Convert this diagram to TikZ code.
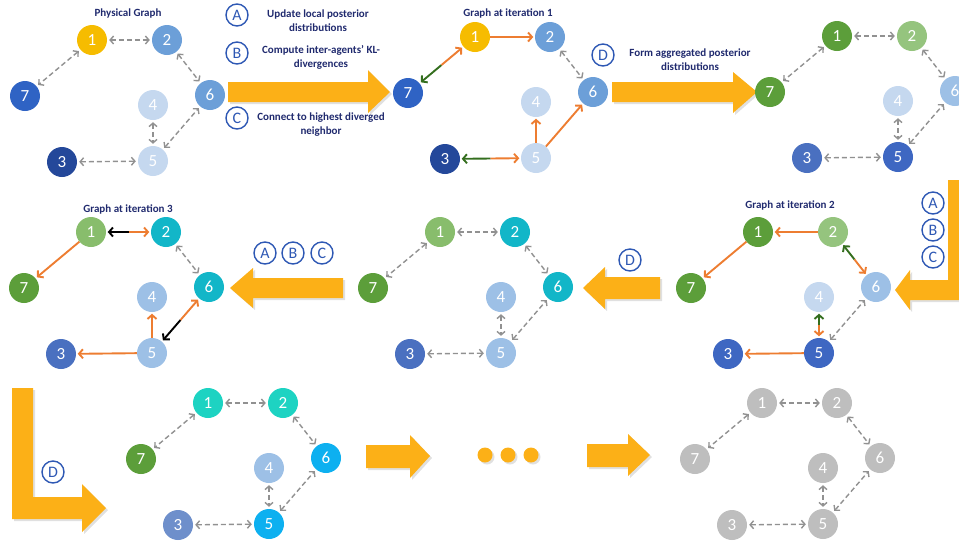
\documentclass[tikz,border=0pt]{standalone}
\usepackage{fontspec}
\setmainfont{Carlito}
\usetikzlibrary{arrows.meta,calc}
\definecolor{navy}{RGB}{32,42,110}
\definecolor{cb}{RGB}{46,88,180}
\definecolor{arr}{RGB}{252,176,23}
\definecolor{gold}{RGB}{246,188,0}
\definecolor{mb}{RGB}{108,159,216}
\definecolor{bseven}{RGB}{47,99,196}
\definecolor{pale}{RGB}{197,216,239}
\definecolor{dkb}{RGB}{36,72,154}
\definecolor{gn}{RGB}{92,158,58}
\definecolor{lgn}{RGB}{149,196,126}
\definecolor{lb}{RGB}{157,192,230}
\definecolor{bfive}{RGB}{62,103,194}
\definecolor{bthree}{RGB}{74,112,192}
\definecolor{mgn}{RGB}{136,189,108}
\definecolor{teal}{RGB}{18,182,200}
\definecolor{aqua}{RGB}{29,211,194}
\definecolor{sky}{RGB}{13,176,240}
\definecolor{lthree}{RGB}{110,143,203}
\definecolor{gr}{RGB}{190,190,190}
\definecolor{dline}{RGB}{145,145,145}
\definecolor{og}{RGB}{237,125,49}
\definecolor{dg}{RGB}{52,110,30}
\tikzset{
  nd/.style={circle, minimum size=30, inner sep=0, text=white,
    font=\fontsize{17}{17}\selectfont},
  dsh/.style={draw=dline, line width=1.4, dash pattern=on 5pt off 3pt,
    {Straight Barb[length=3.5pt,width=8pt]}-{Straight Barb[length=3.5pt,width=8pt]},
    shorten <=2, shorten >=2},
  sol/.style={line width=1.9, -{Straight Barb[length=4pt,width=9pt]}, shorten >=1.5},
  circ/.style={circle, draw=cb, line width=1.4, fill=white, minimum size=22,
    inner sep=0, text=cb, font=\fontsize{16}{16}\selectfont},
  lbl/.style={text=navy, font=\bfseries\fontsize{11}{14}\selectfont,
    align=center, inner sep=0},
  bigarrow/.style={fill=arr},
  shad/.style={fill=black, opacity=0.12},
}
\newcommand{\placenet}[8]{%
  \node[nd,fill=#2] (#1-1) at (0,0) {1};
  \node[nd,fill=#3] (#1-2) at (75,0) {2};
  \node[nd,fill=#4] (#1-3) at (-30,122) {3};
  \node[nd,fill=#5] (#1-4) at (61,65) {4};
  \node[nd,fill=#6] (#1-5) at (61,121) {5};
  \node[nd,fill=#7] (#1-6) at (118,55) {6};
  \node[nd,fill=#8] (#1-7) at (-67,56) {7};
}
\newcommand{\dashall}[1]{%
  \draw[dsh] (#1-1) -- (#1-2);
  \draw[dsh] (#1-2) -- (#1-6);
  \draw[dsh] (#1-1) -- (#1-7);
  \draw[dsh] (#1-4) -- (#1-5);
  \draw[dsh] (#1-5) -- (#1-6);
  \draw[dsh] (#1-3) -- (#1-5);
}
\newcommand{\splitedge}[4]{%
  \draw[sol,draw=#3] ($(#1)!0.5!(#2)$) -- (#1);
  \draw[sol,draw=#4] ($(#1)!0.5!(#2)$) -- (#2);
}
% a filled shape with a soft offset shadow
\newcommand{\shape}[1]{%
  \fill[shad, shift={(2,2)}] #1;
  \fill[bigarrow] #1;
}
\begin{document}
\begin{tikzpicture}[x=1pt,y=-1pt]
\useasboundingbox (0,0) rectangle (959,542);
\clip (0,0) rectangle (959,542);

% ---------- row 1 ----------
\node[lbl] (t1) at (128,14) {Physical Graph};
\begin{scope}[shift={(92,40)}]
  \placenet{a}{gold}{mb}{dkb}{pale}{pale}{mb}{bseven}
\end{scope}
\dashall{a}

\shape{(228,82) -- (368,82) -- (368,70) -- (390,92) -- (368,113) -- (368,102) -- (228,102) -- cycle}
\node[circ] (cA1) at (237,15) {A};
\node[lbl] (tA1) at (318,21) {Update local posterior\\distributions};
\node[circ] (cB1) at (237,53) {B};
\node[lbl] (tB1) at (321,57) {Compute inter-agents’ KL-\\divergences};
\node[circ] (cC1) at (237,118) {C};
\node[lbl] (tC1) at (321,125) {Connect to highest diverged\\neighbor};

\node[lbl] (t2) at (508,13) {Graph at iteration 1};
\begin{scope}[shift={(475,37)}]
  \placenet{b}{gold}{mb}{dkb}{pale}{pale}{mb}{bseven}
\end{scope}
\draw[sol,draw=og] (b-1) -- (b-2);
\draw[dsh] (b-2) -- (b-6);
\splitedge{b-7}{b-1}{dg}{og}
\draw[sol,draw=og] (b-5) -- (b-4);
\draw[sol,draw=og] (b-5) -- (b-6);
\splitedge{b-3}{b-5}{dg}{og}

\shape{(612,82) -- (733,82) -- (733,72) -- (757,92) -- (733,113) -- (733,102) -- (612,102) -- cycle}
\node[circ] (cD1) at (603,55) {D};
\node[lbl] (tD1) at (690,60) {Form aggregated posterior\\distributions};

\begin{scope}[shift={(837,36)}]
  \placenet{c}{gn}{lgn}{bthree}{pale}{bfive}{lb}{gn}
\end{scope}
\dashall{c}

% ---------- row 2 ----------
\node[lbl] (t4) at (790,205) {Graph at iteration 2};
\begin{scope}[shift={(758,232)}]
  \placenet{d}{gn}{lgn}{bfive}{pale}{bfive}{lb}{gn}
\end{scope}
\draw[sol,draw=og] (d-2) -- (d-1);
\draw[sol,draw=og] (d-1) -- (d-7);
\splitedge{d-2}{d-6}{dg}{og}
\splitedge{d-4}{d-5}{dg}{og}
\draw[dsh] (d-5) -- (d-6);
\draw[sol,draw=og] (d-5) -- (d-3);

\shape{(948,180) -- (966,180) -- (966,300) -- (910,300) -- (910,310) -- (895,290) -- (910,270) -- (910,280) -- (948,280) -- cycle}
\node[circ] (cA2) at (933,203) {A};
\node[circ] (cB2) at (933,230) {B};
\node[circ] (cC2) at (933,257) {C};

\begin{scope}[shift={(440,232)}]
  \placenet{e}{mgn}{teal}{bthree}{lb}{lb}{teal}{gn}
\end{scope}
\dashall{e}
\shape{(660,277) -- (605,277) -- (605,267) -- (583,288) -- (605,309) -- (605,299) -- (660,299) -- cycle}
\node[circ] (cD2) at (630,260) {D};

\node[lbl] (t3) at (128,209) {Graph at iteration 3};
\begin{scope}[shift={(91,232)}]
  \placenet{f}{mgn}{teal}{bthree}{lb}{lb}{teal}{gn}
\end{scope}
\splitedge{f-1}{f-2}{black}{og}
\draw[dsh] (f-2) -- (f-6);
\draw[sol,draw=og] (f-1) -- (f-7);
\draw[sol,draw=og] (f-5) -- (f-4);
\draw[sol,draw=og] (f-5) -- (f-3);
\splitedge{f-5}{f-6}{black}{og}
\shape{(343,278) -- (253,278) -- (253,268) -- (230,288) -- (253,308) -- (253,298) -- (343,298) -- cycle}
\node[circ] (cA3) at (265,253) {A};
\node[circ] (cB3) at (293,253) {B};
\node[circ] (cC3) at (322,253) {C};

% ---------- row 3 ----------
\shape{(12,388) -- (33,388) -- (33,497) -- (82,497) -- (82,484) -- (106,508) -- (82,532) -- (82,519) -- (12,519) -- cycle}
\node[circ] (cD3) at (53,472) {D};

\begin{scope}[shift={(208,403)}]
  \placenet{g}{aqua}{aqua}{lthree}{lb}{sky}{sky}{gn}
\end{scope}
\dashall{g}

\shape{(366,445) -- (410,445) -- (410,435) -- (430,456) -- (410,478) -- (410,468) -- (366,468) -- cycle}
\shape{(485,455) circle[radius=7.5]}
\shape{(508,455) circle[radius=7.5]}
\shape{(531,455) circle[radius=7.5]}
\shape{(587,444) -- (628,444) -- (628,434) -- (650,455) -- (628,476) -- (628,467) -- (587,467) -- cycle}

\begin{scope}[shift={(762,403)}]
  \placenet{h}{gr}{gr}{gr}{gr}{gr}{gr}{gr}
\end{scope}
\dashall{h}
\end{tikzpicture}
\end{document}
